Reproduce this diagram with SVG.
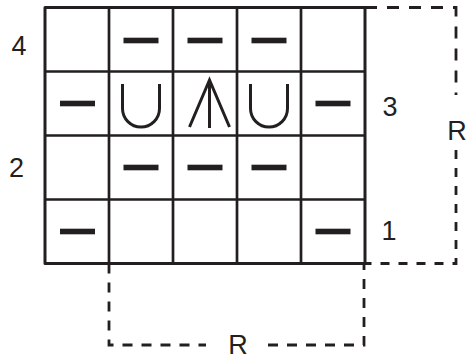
<svg xmlns="http://www.w3.org/2000/svg" xmlns:xlink="http://www.w3.org/1999/xlink" width="469" height="362" viewBox="0 0 469 362">
  <style>
    .grid { stroke: #231f20; stroke-width: 2.7; fill: none; }
    .border { stroke: #231f20; stroke-width: 3; fill: none; stroke-linejoin: round; }
    .dash { stroke: #231f20; stroke-width: 2.8; fill: none; }
    .sym { stroke: #231f20; stroke-width: 3; fill: none; }
    .bar { fill: #231f20; }
    .lbl { font-family: "Liberation Sans", Arial, sans-serif; font-size: 27px; fill: #231f20; text-anchor: middle; }
  </style>
  <defs>
    <rect id="bar" x="-17.5" y="-2.8" width="35" height="5.6" class="bar"/>
    <path id="u" d="M-18.5,84 V108.5 A18.5,18.5 0 0 0 18.5,108.5 V84" class="sym"/>
  </defs>
  <rect width="469" height="362" fill="#ffffff"/>

  <g id="repeat-lines">
    <path class="dash" d="M365,7.5 H456 V95" stroke-dasharray="12 10"/>
    <path class="dash" d="M456,150 V263.5 H365" stroke-dasharray="9 9"/>
    <path class="dash" d="M109,263.5 V345 H206" stroke-dasharray="10 9"/>
    <path class="dash" d="M268,345 H364 V263.5" stroke-dasharray="10 9"/>
  </g>

  <g id="grid">
    <path class="grid" d="M109,7.5 V263.5 M173,7.5 V263.5 M237,7.5 V263.5 M301,7.5 V263.5 M45,71.5 H365 M45,135.5 H365 M45,199.5 H365"/>
    <rect class="border" x="45" y="7.5" width="320" height="256"/>
  </g>

  <g id="symbols">
    <use xlink:href="#bar" x="141" y="40.5"/>
    <use xlink:href="#bar" x="205" y="40.5"/>
    <use xlink:href="#bar" x="269" y="40.5"/>
    <use xlink:href="#bar" x="77.5" y="103.5"/>
    <use xlink:href="#bar" x="333" y="103.5"/>
    <use xlink:href="#u" x="141"/>
    <use xlink:href="#u" x="269"/>
    <path class="sym" d="M209.5,81 V128" stroke-width="3.6"/>
    <path class="sym" d="M189.5,127 L209.5,80 L229.5,127"/>
    <use xlink:href="#bar" x="141" y="167.5"/>
    <use xlink:href="#bar" x="205" y="167.5"/>
    <use xlink:href="#bar" x="269" y="167.5"/>
    <use xlink:href="#bar" x="77.5" y="231.5"/>
    <use xlink:href="#bar" x="333" y="231.5"/>
  </g>

  <g id="labels">
    <text class="lbl" x="19" y="55">4</text>
    <text class="lbl" x="390" y="116">3</text>
    <text class="lbl" x="16.5" y="177">2</text>
    <text class="lbl" x="389" y="240">1</text>
    <text class="lbl" x="457" y="140">R</text>
    <text class="lbl" x="238" y="354">R</text>
  </g>
</svg>
